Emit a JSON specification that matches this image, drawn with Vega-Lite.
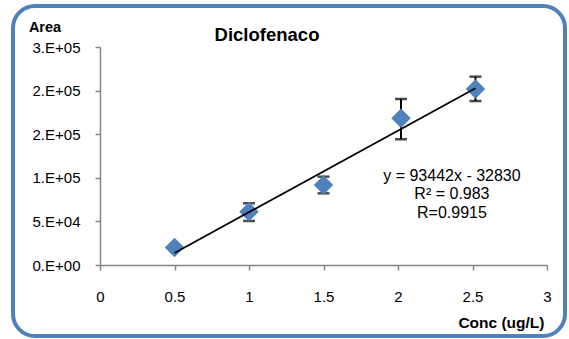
{
  "$schema": "https://vega.github.io/schema/vega-lite/v6.json",
  "width": 552,
  "height": 330,
  "autosize": {"type": "none"},
  "padding": {"left": 13, "top": 6, "right": 4, "bottom": 3},
  "background": "white",
  "config": {
    "view": {"stroke": "#4F81BD", "strokeWidth": 4, "cornerRadius": 22, "fill": "white"},
    "font": "Liberation Sans"
  },
  "title": {
    "text": "Diclofenaco",
    "fontSize": 18.5,
    "fontWeight": "bold",
    "font": "Liberation Sans",
    "color": "black",
    "anchor": "middle",
    "frame": "group",
    "baseline": "alphabetic",
    "offset": 0,
    "dx": -22,
    "dy": 53
  },
  "datasets": {
    "points": [
      {"conc": 0.5, "area": 20000, "lo": 20000, "hi": 20000},
      {"conc": 1.0, "area": 61000, "lo": 50500, "hi": 70800},
      {"conc": 1.5, "area": 91700, "lo": 82200, "hi": 101300},
      {"conc": 2.02, "area": 168200, "lo": 144200, "hi": 190400},
      {"conc": 2.52, "area": 201800, "lo": 188000, "hi": 216000}
    ],
    "trend": [
      {"conc": 0.5, "area": 13891},
      {"conc": 2.52, "area": 202644}
    ]
  },
  "layer": [
    {
      "data": {"name": "points"},
      "mark": {
        "type": "errorbar",
        "color": "black",
        "thickness": 2,
        "ticks": {"size": 12, "thickness": 2.5, "color": "black"}
      },
      "encoding": {
        "x": {
          "field": "conc", "type": "quantitative",
          "scale": {"domain": [0, 3], "range": [87, 534], "nice": false, "zero": false},
          "axis": {
            "values": [0, 0.5, 1, 1.5, 2, 2.5, 3],
            "format": "~g",
            "orient": "bottom",
            "offset": -71,
            "grid": false,
            "domainColor": "#868686",
            "domainWidth": 1.5,
            "tickColor": "#868686",
            "tickWidth": 1.5,
            "tickSize": 5,
            "labelFontSize": 15,
            "labelFont": "Liberation Sans",
            "labelColor": "black",
            "labelPadding": 19,
            "labelFlush": false,
            "labelOverlap": false,
            "title": "Conc (ug/L)",
            "titleFont": "Liberation Sans",
            "titleFontSize": 15.5,
            "titleFontWeight": "bold",
            "titleColor": "black",
            "titleAlign": "right",
            "titleBaseline": "alphabetic",
            "titleX": 531,
            "titleY": 62
          }
        },
        "y": {
          "field": "lo", "type": "quantitative",
          "scale": {"domain": [0, 250000], "range": [259, 41], "nice": false, "zero": false},
          "axis": {
            "values": [0, 50000, 100000, 150000, 200000, 250000],
            "labelExpr": "datum.value == 0 ? '0.E+00' : datum.value == 50000 ? '5.E+04' : datum.value == 100000 ? '1.E+05' : datum.value == 150000 ? '2.E+05' : datum.value == 200000 ? '2.E+05' : '3.E+05'",
            "orient": "left",
            "offset": -87,
            "grid": false,
            "domainColor": "#868686",
            "domainWidth": 1.5,
            "tickColor": "#868686",
            "tickWidth": 1.5,
            "tickSize": 5,
            "labelFontSize": 15,
            "labelFont": "Liberation Sans",
            "labelColor": "black",
            "labelPadding": 15,
            "labelFlush": false,
            "labelOverlap": false,
            "title": "Area",
            "titleFont": "Liberation Sans",
            "titleFontSize": 14.5,
            "titleFontWeight": "bold",
            "titleColor": "black",
            "titleAngle": 0,
            "titleAlign": "center",
            "titleBaseline": "alphabetic",
            "titleX": -55.5,
            "titleY": 25.7
          }
        },
        "y2": {"field": "hi"}
      }
    },
    {
      "data": {"name": "points"},
      "mark": {"type": "point", "shape": "diamond", "filled": true, "size": 380, "color": "#4F81BD", "opacity": 1},
      "encoding": {
        "x": {"field": "conc", "type": "quantitative"},
        "y": {"field": "area", "type": "quantitative"}
      }
    },
    {
      "data": {"name": "trend"},
      "mark": {"type": "line", "color": "black", "strokeWidth": 1.7},
      "encoding": {
        "x": {"field": "conc", "type": "quantitative"},
        "y": {"field": "area", "type": "quantitative"}
      }
    },
    {
      "data": {"values": [{}]},
      "mark": {
        "type": "text",
        "align": "center",
        "baseline": "alphabetic",
        "fontSize": 16,
        "font": "Liberation Sans",
        "color": "black",
        "lineHeight": 18.5
      },
      "encoding": {
        "x": {"datum": 2.362},
        "y": {"datum": 96700},
        "text": {"value": ["y = 93442x - 32830", "R² = 0.983", "R=0.9915"]}
      }
    }
  ]
}
